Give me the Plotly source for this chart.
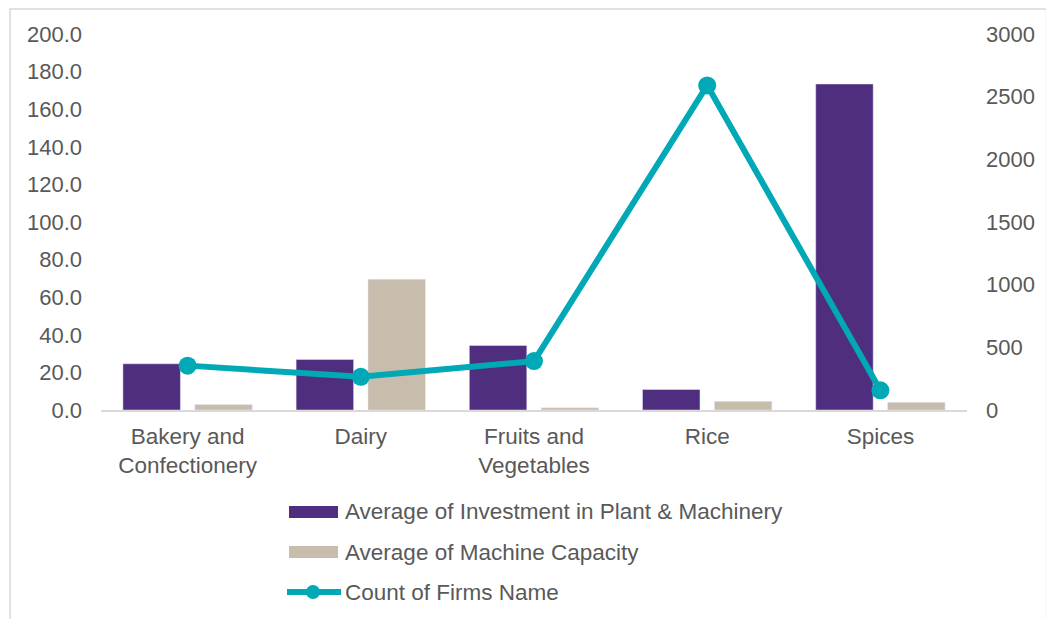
import plotly.graph_objects as go

categories = ["Bakery and<br>Confectionery", "Dairy", "Fruits and<br>Vegetables", "Rice", "Spices"]
avg_investment = [24.6, 26.9, 34.3, 10.9, 173.4]
avg_capacity = [2.9, 69.6, 1.2, 4.6, 4.1]
firm_count = [354, 265, 390, 2590, 157]
series_names = ["Average of Investment in Plant & Machinery", "Average of Machine Capacity", "Count of Firms Name"]

purple = "#4f2d7f"
beige = "#c8bcad"
teal = "#00a9b5"
grey_text = "#595959"

# the page body has an 8px margin, so work in screen pixels and shift back
OFF = 8
W, H = 1054 - OFF, 619 - OFF
# plot area in screen pixels (left, right, top, bottom)
L, R, T, B = 101, 967, 34, 410


def px(xp):
    return (xp - L) / (R - L)


def py(yp):
    return (B - yp) / (B - T)


fig = go.Figure()
fig.add_trace(go.Bar(x=categories, y=avg_investment, name=series_names[0], marker_color=purple))
fig.add_trace(go.Bar(x=categories, y=avg_capacity, name=series_names[1], marker_color=beige))
fig.add_trace(go.Scatter(x=categories, y=firm_count, name=series_names[2], yaxis="y2",
                         mode="lines+markers", line=dict(color=teal, width=6),
                         marker=dict(color=teal, size=18)))

# chart frame
shapes = [dict(type="rect", xref="paper", yref="paper", x0=px(10), x1=px(1046.5), y0=py(640), y1=py(9),
               line=dict(color="#d9d9d9", width=1.5), fillcolor="rgba(0,0,0,0)", layer="below")]
# hand-drawn legend to get Excel-style wide swatches
annotations = []
legend_y = [512, 552, 592]
for i, (name, yc) in enumerate(zip(series_names, legend_y)):
    if i < 2:
        shapes.append(dict(type="rect", xref="paper", yref="paper", x0=px(289), x1=px(338),
                           y0=py(yc + 6), y1=py(yc - 6), line=dict(width=0),
                           fillcolor=purple if i == 0 else beige))
    else:
        shapes.append(dict(type="line", xref="paper", yref="paper", x0=px(287), x1=px(341),
                           y0=py(yc), y1=py(yc), line=dict(color=teal, width=6)))
        shapes.append(dict(type="circle", xref="paper", yref="paper", x0=px(306), x1=px(320),
                           y0=py(yc + 7), y1=py(yc - 7), line=dict(width=0), fillcolor=teal))
    annotations.append(dict(text=name, xref="paper", yref="paper", x=px(343), y=py(yc),
                            xanchor="left", yanchor="middle", showarrow=False,
                            font=dict(size=22.5, color=grey_text)))

fig.update_layout(
    width=W, height=H,
    margin=dict(l=L - OFF, r=1054 - R, t=T - OFF, b=619 - B),
    paper_bgcolor="white", plot_bgcolor="white",
    font=dict(family="Liberation Sans, Arial, sans-serif", size=22, color=grey_text),
    barmode="group", bargap=0.17, bargroupgap=0.2,
    showlegend=False,
    xaxis=dict(showline=True, linecolor="#d9d9d9", linewidth=2, ticks="", showgrid=False,
               automargin=False, tickfont=dict(size=22.5), ticklabelstandoff=5),
    yaxis=dict(range=[0, 200], dtick=20, tickformat=".1f", showgrid=False, zeroline=False,
               ticks="", ticklabelstandoff=18, automargin=False),
    yaxis2=dict(range=[0, 3000], dtick=500, overlaying="y", side="right", showgrid=False,
                zeroline=False, ticks="", ticklabelstandoff=18, automargin=False),
    shapes=shapes,
    annotations=annotations,
)

fig.write_html("out.html")
